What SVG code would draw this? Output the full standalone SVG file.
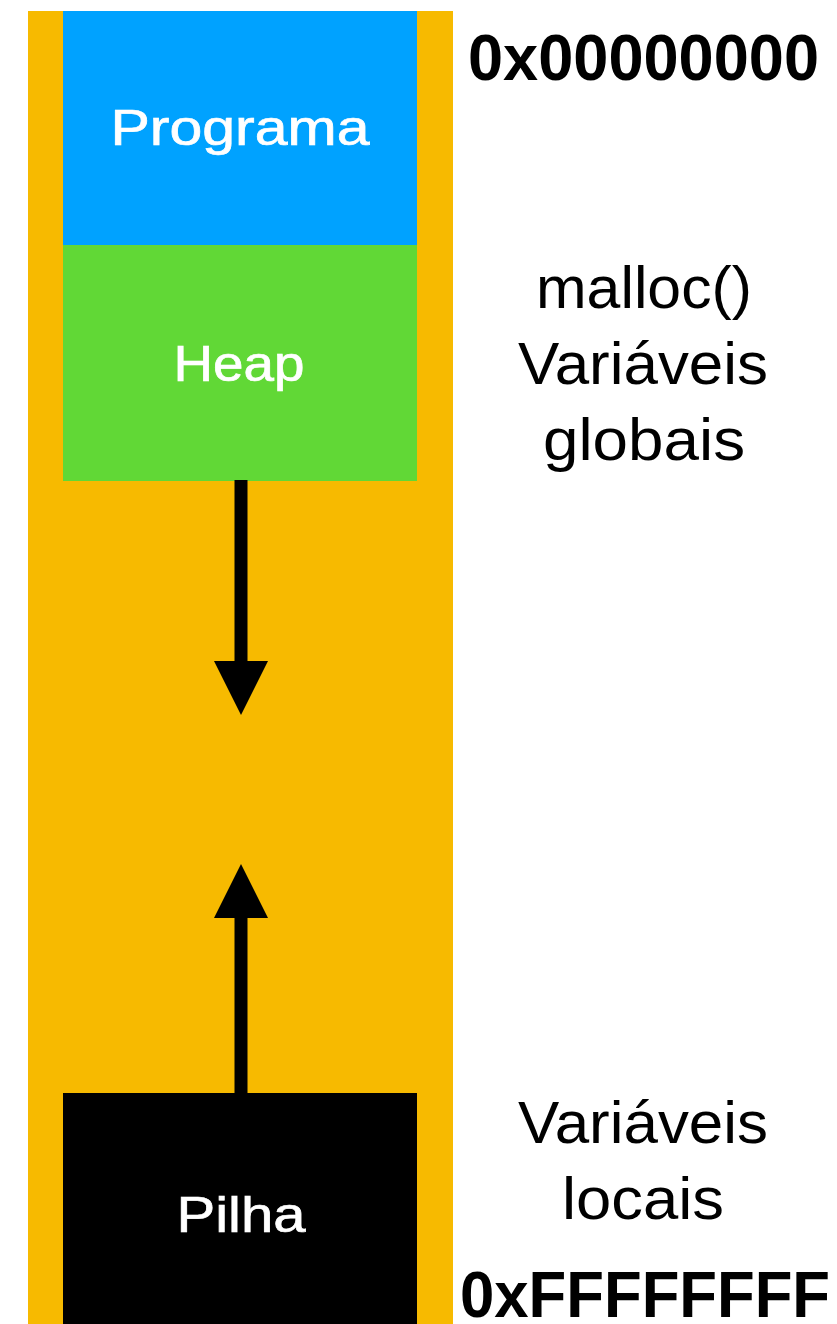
<svg xmlns="http://www.w3.org/2000/svg" width="837" height="1324" viewBox="0 0 837 1324">
<defs>
<style>
.lbl{font-family:"Liberation Sans",Arial,sans-serif;fill:#fff;stroke:#fff;stroke-width:0.7px;font-size:50px;text-anchor:middle}
.side{font-family:"Liberation Sans",Arial,sans-serif;fill:#000;font-size:59px;text-anchor:middle}
.hex{font-family:"Liberation Sans",Arial,sans-serif;fill:#000;font-weight:bold}
</style>
</defs>
<rect x="0" y="0" width="837" height="1324" fill="#fff"/>
<g id="memory">
<rect x="28" y="11" width="425" height="1313" fill="#F7BA00"/>
</g>
<g id="programa">
<rect x="63" y="11" width="354" height="234" fill="#00A2FF"/>
<text class="lbl" x="240" y="145" textLength="259" lengthAdjust="spacingAndGlyphs">Programa</text>
</g>
<g id="heap">
<rect x="63" y="245" width="354" height="236" fill="#61D836"/>
<text class="lbl" x="239" y="381" textLength="131" lengthAdjust="spacingAndGlyphs">Heap</text>
</g>
<g id="pilha">
<rect x="63" y="1093" width="354" height="231" fill="#000"/>
<text class="lbl" x="241" y="1232" textLength="129" lengthAdjust="spacingAndGlyphs">Pilha</text>
</g>
<g id="connectors">
<rect x="234.5" y="480" width="13" height="182"/>
<polygon points="214,661 268,661 241,715"/>
<rect x="234.5" y="916" width="13" height="178"/>
<polygon points="214,918 268,918 241,864"/>
</g>
<g id="labels">
<text class="side" x="644" y="308" textLength="216" lengthAdjust="spacingAndGlyphs">malloc()</text>
<text class="side" x="643" y="384" textLength="250" lengthAdjust="spacingAndGlyphs">Variáveis</text>
<text class="side" x="644" y="460" textLength="202" lengthAdjust="spacingAndGlyphs">globais</text>
<text class="side" x="643" y="1143" textLength="250" lengthAdjust="spacingAndGlyphs">Variáveis</text>
<text class="side" x="643" y="1219" textLength="162" lengthAdjust="spacingAndGlyphs">locais</text>
<text class="hex" x="468" y="80" font-size="64" textLength="351" lengthAdjust="spacingAndGlyphs">0x00000000</text>
<text class="hex" x="460" y="1317" font-size="65" textLength="370" lengthAdjust="spacingAndGlyphs">0xFFFFFFFF</text>
</g>
</svg>
